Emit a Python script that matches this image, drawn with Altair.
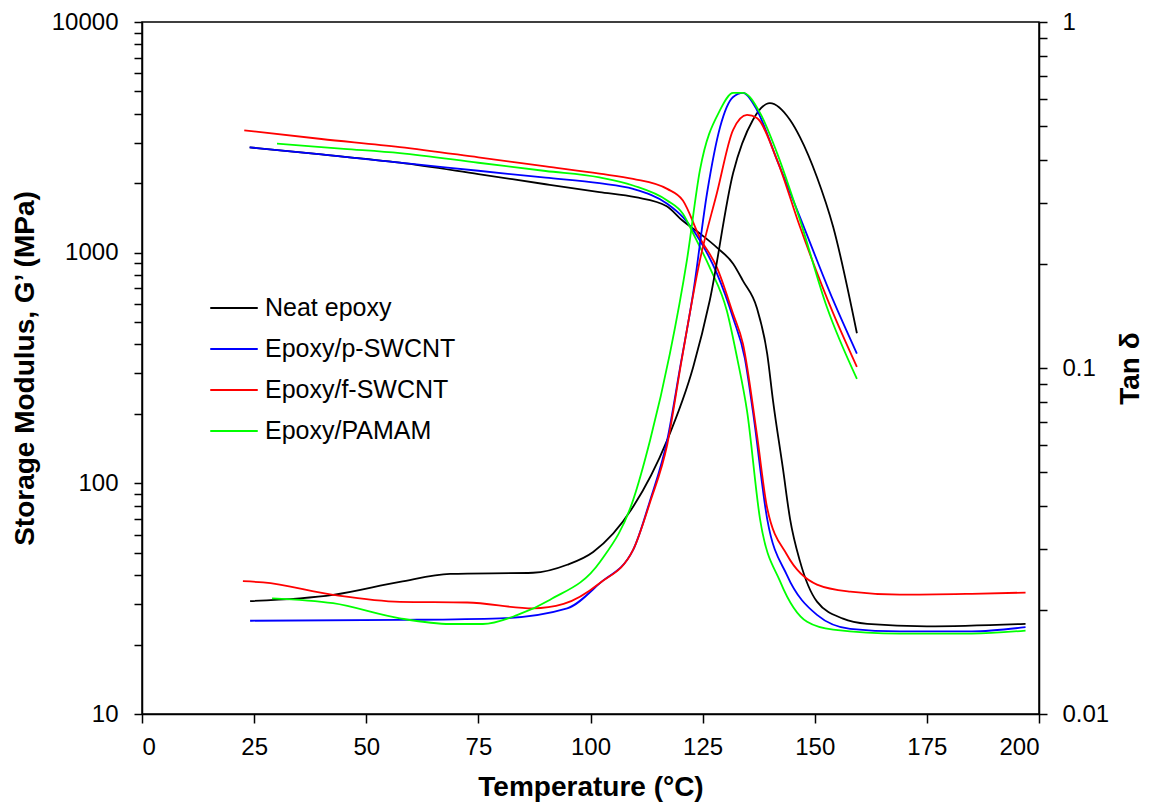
import altair as alt
import pandas as pd

FONT = "Liberation Sans"

series = ["Neat epoxy", "Epoxy/p-SWCNT", "Epoxy/f-SWCNT", "Epoxy/PAMAM"]
colors = ["#000000", "#0000FF", "#FF0000", "#00FF00"]

# Storage modulus G' (MPa) vs temperature
st_black_T = [24, 40, 57.5, 75, 90, 102, 110, 117, 120.5, 124.4, 128.2, 131.8, 134, 137.1, 139.4, 140.7, 142.9, 144.5, 146.7, 150.5, 156.3, 161.7, 175, 197]
st_black_G = [2860, 2665, 2455, 2190, 1980, 1830, 1740, 1590, 1378, 1210, 1052, 896, 755, 576, 364, 228, 116, 70, 46, 30.7, 25.9, 24.6, 24.0, 24.6]

st_blue_T = [24, 40, 57.5, 75, 90, 102, 109.5, 117.1, 120.6, 124.4, 128.2, 131.8, 134.4, 136.2, 139.4, 143.8, 150.5, 157.9, 169, 185, 197]
st_blue_G = [2860, 2665, 2455, 2265, 2113, 2000, 1890, 1630, 1425, 1128, 811, 521, 349, 206, 70, 40, 26.9, 23.4, 22.8, 22.8, 23.8]

st_red_T = [22.8, 40, 57.5, 75, 90, 102, 109.5, 117.1, 120.6, 124.4, 128.2, 131.8, 134, 137.1, 139.4, 143.8, 150.5, 157.9, 169, 185, 197]
st_red_G = [3390, 3110, 2870, 2590, 2365, 2200, 2090, 1890, 1683, 1160, 861, 543, 402, 163, 78, 49, 36.4, 33.9, 32.9, 33.2, 33.6]

st_green_T = [30.1, 45, 57.5, 75, 90, 102, 109.5, 117.1, 120.6, 122.9, 126.6, 130.4, 132.7, 134.9, 137.8, 142.3, 148.3, 154.1, 169, 185, 197]
st_green_G = [2970, 2820, 2700, 2454, 2260, 2120, 1955, 1683, 1473, 1210, 861, 560, 349, 206, 70, 37.5, 25.1, 23.2, 22.3, 22.3, 23.0]

# Tan delta vs temperature
td_black_T = [24.1, 42.6, 57.5, 68.7, 87.2, 94.8, 100.6, 109.5, 117.1, 122.9, 126.6, 131.8, 136.2, 140, 144.5, 146.7, 150.5, 154.1, 159.4]
td_black_v = [0.0212, 0.0221, 0.0241, 0.0254, 0.0256, 0.0270, 0.0294, 0.0397, 0.0619, 0.1007, 0.157, 0.366, 0.521, 0.583, 0.521, 0.465, 0.356, 0.256, 0.126]

td_blue_T = [24.1, 57.5, 79.8, 94.8, 102.1, 109.5, 113.3, 117.1, 120, 122.9, 126, 128.9, 131.8, 134, 137.1, 141.6, 146.7, 154.1, 159.4]
td_blue_v = [0.0186, 0.0187, 0.0189, 0.0202, 0.0239, 0.0298, 0.0415, 0.0619, 0.1007, 0.165, 0.321, 0.497, 0.607, 0.624, 0.557, 0.399, 0.273, 0.157, 0.110]

td_red_T = [22.5, 27, 42.6, 57.5, 72.5, 87.2, 94, 102.1, 109.5, 113.3, 117.1, 120.3, 124.4, 128.2, 131.8, 134.9, 137.1, 141.6, 146.7, 154.1, 159.4]
td_red_v = [0.0242, 0.0240, 0.0221, 0.0211, 0.0210, 0.0202, 0.0208, 0.0239, 0.0298, 0.0410, 0.0600, 0.105, 0.205, 0.321, 0.488, 0.539, 0.528, 0.399, 0.256, 0.144, 0.1007]

td_green_T = [29, 42.6, 57.5, 68.7, 76, 83.6, 91, 102.1, 109.5, 113.3, 117.7, 121.5, 124.4, 128.9, 131.8, 134, 137.8, 141.6, 146.7, 152.7, 159.4]
td_green_v = [0.0216, 0.0209, 0.0189, 0.0182, 0.0182, 0.0193, 0.0214, 0.0275, 0.0415, 0.0619, 0.110, 0.205, 0.373, 0.557, 0.624, 0.624, 0.546, 0.418, 0.268, 0.150, 0.0930]

x_ticks = [0, 25, 50, 75, 100, 125, 150, 175, 200]
left_ticks = [10, 100, 1000, 10000]
right_ticks = [0.01, 0.1, 1]
left_minor = [20, 30, 40, 50, 60, 70, 80, 90, 200, 300, 400, 500, 600, 700, 800, 900,
              2000, 3000, 4000, 5000, 6000, 7000, 8000, 9000]
right_minor = [0.02, 0.03, 0.04, 0.05, 0.06, 0.07, 0.08, 0.09,
               0.2, 0.3, 0.4, 0.5, 0.6, 0.7, 0.8, 0.9]

st_sets = [(st_black_T, st_black_G), (st_blue_T, st_blue_G), (st_red_T, st_red_G), (st_green_T, st_green_G)]
td_sets = [(td_black_T, td_black_v), (td_blue_T, td_blue_v), (td_red_T, td_red_v), (td_green_T, td_green_v)]

st_rows, td_rows = [], []
for name, (ts, vs) in zip(series, st_sets):
    for i, (t, v) in enumerate(zip(ts, vs)):
        st_rows.append({"series": name, "T": t, "G": v, "i": i})
for name, (ts, vs) in zip(series, td_sets):
    for i, (t, v) in enumerate(zip(ts, vs)):
        td_rows.append({"series": name, "T": t, "tan": v, "i": i})
st_df = pd.DataFrame(st_rows)
td_df = pd.DataFrame(td_rows)

W, H = 897, 692

xscale = alt.Scale(domain=[0, 200], nice=False, zero=False)
x_axis = alt.Axis(values=x_ticks, title="Temperature (°C)", grid=False,
                  tickSize=9, labelPadding=12, titlePadding=14)

color = alt.Color("series:N", scale=alt.Scale(domain=series, range=colors),
                  legend=alt.Legend(title=None, orient="none", legendX=72, legendY=266,
                                    symbolType="M-1.25,0H1.25", symbolSize=1444,
                                    symbolStrokeWidth=2, labelFontSize=25, labelFont=FONT,
                                    labelOffset=11, rowPadding=8, padding=0,
                                    labelLimit=0, labelColor="black"))

left_scale = alt.Scale(type="log", domain=[10, 10000], nice=False)
right_scale = alt.Scale(type="log", domain=[0.01, 1], nice=False)

left_major_list = ", ".join(str(v) for v in left_ticks)
right_major_list = ", ".join(str(v) for v in right_ticks)

storage = alt.Chart(st_df).mark_line(strokeWidth=1.8, interpolate="monotone").encode(
    x=alt.X("T:Q", scale=xscale, axis=x_axis),
    y=alt.Y("G:Q", scale=left_scale,
            axis=alt.Axis(orient="left", values=sorted(left_ticks + left_minor), grid=False,
                          tickCount=100,
                          labelExpr=f"indexof([{left_major_list}], datum.value) >= 0 ? format(datum.value, 'd') : ''",
                          labelOverlap=False,
                          title="Storage Modulus, G’ (MPa)", tickSize=8, labelPadding=16,
                          titlePadding=12)),
    color=color,
    order="i:Q",
)

tan = alt.Chart(td_df).mark_line(strokeWidth=1.8, interpolate="monotone").encode(
    x=alt.X("T:Q", scale=xscale, axis=x_axis),
    y=alt.Y("tan:Q", scale=right_scale,
            axis=alt.Axis(orient="right", values=sorted(right_ticks + right_minor), grid=False,
                          tickCount=100,
                          labelExpr=f"indexof([{right_major_list}], datum.value) >= 0 ? format(datum.value, '~g') : ''",
                          labelOverlap=False,
                          title="Tan δ", titleAngle=270, tickSize=8, labelPadding=15,
                          titlePadding=36)),
    color=color,
    order="i:Q",
)

chart = alt.layer(storage, tan).resolve_scale(
    y="independent"
).properties(
    width=W, height=H,
    autosize=alt.AutoSizeParams(type="none"),
    padding={"left": 142, "top": 22, "right": 110, "bottom": 89},
    background="white",
).configure_view(
    stroke="black", strokeWidth=1.5
).configure_axis(
    domainColor="black", domainWidth=1.5, tickColor="black", tickWidth=1.5,
    labelFont=FONT, labelFontSize=24, labelColor="black",
    titleFont=FONT, titleFontSize=28, titleFontWeight="bold", titleColor="black",
)

chart.save("out.html", embed_options={"renderer": "svg", "actions": False})
